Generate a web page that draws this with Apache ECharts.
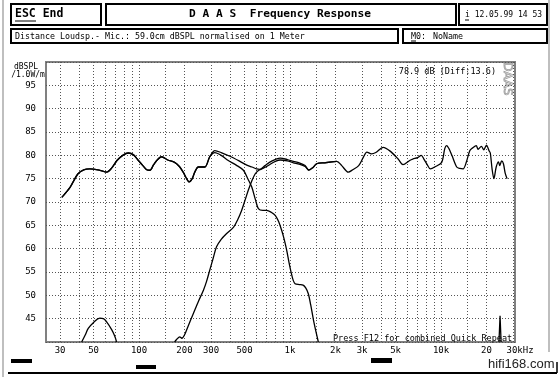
<!DOCTYPE html>
<html><head><meta charset="utf-8">
<script src="https://cdn.jsdelivr.net/npm/echarts@6/dist/echarts.min.js"></script>
<style>html,body{margin:0;padding:0;background:#fff}#c{width:560px;height:377px}</style>
</head><body><div id="c"></div>
<script>
// ---- data (frequency in Hz, level in dBSPL) ----
const totalCurve = [[30.8,71.0],[35,73.2],[39.3,76.0],[43,76.9],[47.2,77.1],[55,76.8],[61,76.4],[66,77.3],[71.4,78.9],[78,80.0],[85,80.5],[92,80.1],[99,78.9],[106,77.8],[112.4,76.9],[118,76.8],[125,78.0],[131,78.9],[141,79.7],[155,79.0],[172,78.5],[185,77.6],[196,76.4],[205,75.2],[215,74.3],[225,75.0],[234,76.4],[247,77.5],[273,77.5],[294,79.7],[318,81.0],[350,80.6],[400,79.8],[460,78.8],[517,77.9],[560,77.5],[600,77.1],[633,77.0],[683,77.8],[740,78.6],[860,79.4],[960,79.1],[1052,78.7],[1150,78.4],[1258,77.8],[1330,76.8],[1420,77.4],[1500,78.2],[1700,78.4],[2040,78.7],[2200,77.8],[2430,76.4],[2600,76.9],[2850,77.8],[3050,79.5],[3230,80.7],[3460,80.3],[3700,80.6],[4140,81.7],[4600,80.9],[5200,79.2],[5600,78.0],[6200,78.9],[6500,79.2],[7000,79.5],[7400,80.0],[7700,79.2],[8100,78.0],[8500,77.1],[9200,77.6],[10100,78.5],[10600,81.5],[10900,82.1],[11300,81.4],[11800,80.0],[12700,77.5],[13300,77.2],[14000,77.1],[14700,78.5],[15500,81.0],[16200,81.6],[17100,82.1],[17600,81.3],[18500,81.9],[19200,81.2],[20000,82.2],[20800,81.0],[21200,80.5],[21800,77.0],[22400,75.0],[23200,77.5],[24000,78.6],[24500,77.8],[25200,78.8],[25900,78.2],[26600,76.2],[27400,75.0]];
const wooferCurve = [[30.8,71.0],[35,73.2],[39.3,76.0],[43,76.9],[47.2,77.1],[55,76.8],[61,76.4],[66,77.3],[71.4,78.9],[78,80.0],[85,80.5],[92,80.1],[99,78.9],[106,77.8],[112.4,76.9],[118,76.8],[125,78.0],[131,78.9],[141,79.7],[155,79.0],[172,78.5],[185,77.6],[196,76.4],[205,75.2],[215,74.3],[225,75.0],[234,76.4],[247,77.5],[273,77.5],[294,79.7],[318,80.6],[350,80.0],[390,78.9],[440,77.9],[491,76.8],[525,75.0],[558,73.2],[590,70.5],[617,68.6],[660,68.2],[700,68.2],[750,67.8],[800,67.1],[840,65.8],[881,63.9],[915,62.0],[950,59.7],[985,57.0],[1020,54.7],[1050,53.2],[1080,52.5],[1150,52.3],[1220,52.2],[1270,51.6],[1320,50.4],[1370,48.0],[1430,44.7],[1490,42.0],[1540,40.0]];
const tweeterCurve = [[172,40.0],[178,40.6],[186,41.1],[192,40.8],[200,41.5],[212,43.5],[229,46.1],[248,48.8],[267,51.1],[280,53.0],[294,55.4],[310,58.0],[326,60.4],[350,62.0],[379,63.2],[423,64.6],[450,66.2],[478,68.2],[505,70.5],[529,72.5],[558,74.5],[587,76.0],[620,76.8],[650,77.1],[700,77.6],[740,78.1],[800,78.7],[860,79.0],[960,78.8],[1052,78.4],[1150,78.1],[1258,77.6],[1330,76.9],[1420,77.4],[1500,78.2],[1700,78.4],[2040,78.7]];
const lowBump = [[41.7,40.0],[44,41.5],[46.1,42.9],[50,44.2],[55,45.1],[58,45.0],[61,44.3],[66,42.6],[69,41.3],[71,40.0]];
const hfSpike = [[24200,40.0],[24600,45.6],[25000,40.0]];
const gridFreqs = [30,40,50,60,70,80,90,100,150,200,300,400,500,600,700,800,900,1000,1500,2000,3000,4000,5000,6000,7000,8000,9000,10000,15000,20000,30000];
const labelFreqs = [30,50,100,200,300,500,1000,2000,3000,5000,10000,20000,30000];
const labelTexts = ['30','50','100','200','300','500','1k','2k','3k','5k','10k','20','30kHz'];
const yMin = 40, yMax = 100, yStep = 5;

const mono = '"DejaVu Sans Mono", "Liberation Mono", monospace';
const chart = echarts.init(document.getElementById('c'), null, {renderer: 'canvas'});

const lineStyle = {color: '#000', width: 1.3};
function curve(name, data, smooth) {
  return {name, type: 'line', data, showSymbol: false, smooth: smooth, lineStyle, silent: true, animation: false, z: 3};
}

const markData = gridFreqs.map(f => {
  const i = labelFreqs.indexOf(f);
  const item = {xAxis: f, label: {show: i >= 0, formatter: i >= 0 ? labelTexts[i] : ''}};
  if (f === 30000) item.label.offset = [7, 0];
  return item;
});

function box(x, y, w, h) {
  return {type: 'rect', shape: {x, y, width: w, height: h}, style: {fill: 'none', stroke: '#000', lineWidth: 2}};
}
function txt(x, y, text, opt) {
  return {type: 'text', x, y, style: Object.assign({text, fill: '#000', font: '8.3px ' + mono, textVerticalAlign: 'middle'}, opt || {})};
}
function ln(x1, y1, x2, y2, color, w) {
  return {type: 'line', shape: {x1, y1, x2, y2}, style: {stroke: color || '#000', lineWidth: w || 1}};
}

chart.setOption({
  animation: false,
  backgroundColor: '#fff',
  grid: {left: 46, top: 62, width: 469, height: 280, show: true, borderColor: '#808080', borderWidth: 2, backgroundColor: 'transparent'},
  xAxis: {type: 'log', logBase: 10, min: 24.2, max: 30900, axisLine: {show: false}, axisTick: {show: false}, axisLabel: {show: false}, splitLine: {show: false}},
  yAxis: {type: 'value', min: yMin, max: yMax, interval: yStep,
    axisLine: {show: false}, axisTick: {show: false},
    axisLabel: {margin: 10, color: '#000', fontSize: 9, fontFamily: mono, formatter: v => (v === yMin || v === yMax) ? '' : String(v)},
    splitLine: {show: true, lineStyle: {color: '#555', width: 1, type: [1, 2]}}},
  series: [
    Object.assign(curve('low', lowBump, 0.4), {
      markLine: {silent: true, symbol: 'none', animation: false, z: 1,
        lineStyle: {color: '#555', width: 1, type: [1, 2]},
        label: {position: 'start', distance: 4, color: '#000', fontSize: 9, fontFamily: mono},
        data: markData}
    }),
    curve('woofer', wooferCurve, 0.3),
    curve('tweeter', tweeterCurve, 0.3),
    curve('total', totalCurve, 0.3),
    curve('spike', hfSpike, false)
  ],
  graphic: [
    ln(3, 0, 3, 377, '#aaa', 1.5),
    ln(549, 0, 549, 352, '#aaa', 1.5),
    box(11, 4, 90, 21),
    box(106, 4, 350, 21),
    box(459, 4, 88, 21),
    box(11, 29, 387, 14),
    box(403, 29, 144, 14),
    txt(15, 14.5, 'ESC End', {font: 'bold 11.5px ' + mono}),
    ln(15, 21, 36, 21, '#000', 1),
    txt(280, 14.5, 'D A A S  Frequency Response', {font: 'bold 11.2px ' + mono, textAlign: 'center'}),
    txt(465, 14.5, 'i 12.05.99 14 53', {font: '8px ' + mono}),
    ln(465, 20, 469, 20, '#000', 1),
    txt(15, 36.5, 'Distance Loudsp.- Mic.: 59.0cm dBSPL normalised on 1 Meter'),
    txt(411, 36.5, 'M0:'),
    ln(411, 41, 416, 41, '#000', 1),
    txt(433, 36.5, 'NoName'),
    txt(26, 66.5, 'dBSPL', {textAlign: 'center', font: '8px ' + mono}),
    txt(28, 74.5, '/1.0W/m', {textAlign: 'center', font: '8px ' + mono}),
    txt(496, 71.5, '78.9 dB (Diff:13.6)', {textAlign: 'right', font: '8.5px ' + mono}),
    {type: 'text', x: 507, y: 79, rotation: -Math.PI / 2, style: {text: 'DAAS', fill: 'none', stroke: '#999', lineWidth: 0.8, font: '12px "DejaVu Sans"', textAlign: 'center', textVerticalAlign: 'middle'}},
    txt(333, 339, 'Press F12 for combined Quick Repeat', {font: '8.5px ' + mono}),
    {type: 'rect', shape: {x: 11, y: 359, width: 21, height: 4}, style: {fill: '#000'}},
    {type: 'rect', shape: {x: 136, y: 365, width: 20, height: 4}, style: {fill: '#000'}},
    {type: 'rect', shape: {x: 371, y: 358, width: 21, height: 5}, style: {fill: '#000'}},
    ln(8, 373, 557, 373, '#000', 2),
    ln(557, 362, 557, 373, '#000', 1.5),
    txt(488, 364, 'hifi168.com', {font: '13px "Liberation Sans"', fill: '#222'})
  ]
});
</script></body></html>
